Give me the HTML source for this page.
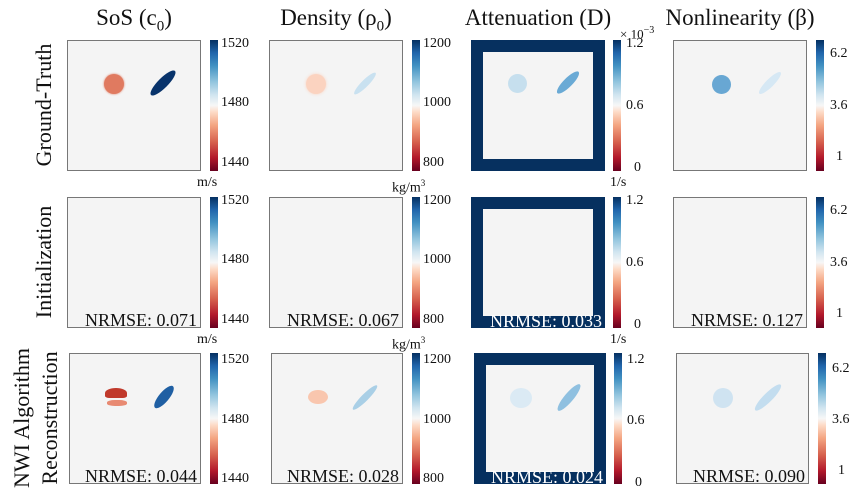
<!DOCTYPE html>
<html><head><meta charset="utf-8"><style>
body{margin:0;width:853px;height:499px;background:#fff;position:relative;overflow:hidden;font-family:"Liberation Serif","DejaVu Serif","Noto Serif CJK SC",serif;color:#111}
.p{position:absolute;width:134px;height:131px;background:#f4f4f4;border:1px solid #777;box-sizing:border-box;overflow:hidden}
.a{background:#06305f;border:none}
.a .in{position:absolute;left:12px;top:12px;right:12px;bottom:12px;background:#f4f4f4}
.cb{position:absolute;width:8px;height:131px;background:linear-gradient(to top,#67001f,#b2182b 10%,#d6604d 22%,#f4a582 35%,#fddbc7 45%,#f7f7f7 50%,#d1e5f0 58%,#92c5de 68%,#4393c3 80%,#2166ac 90%,#053061)}
.t{position:absolute;font-size:14px;line-height:14px}
.ti{position:absolute;font-size:23px;top:5px;width:220px;text-align:center;white-space:nowrap}
.n{position:absolute;right:3px;bottom:-3px;font-size:18px;line-height:20px;white-space:nowrap}
.b{position:absolute;border-radius:50%}
.rl{position:absolute;font-size:22px;white-space:nowrap;transform:translate(-50%,-50%) rotate(-90deg);line-height:24px}
</style></head><body>
<div class="ti" style="left:24px">SoS (c<sub style="font-size:15px">0</sub>)</div>
<div class="ti" style="left:226px">Density (ρ<sub style="font-size:15px">0</sub>)</div>
<div class="ti" style="left:428px">Attenuation (D)</div>
<div class="ti" style="left:630px">Nonlinearity (β)</div>
<div class="t" style="left:620px;top:24px;font-size:13px">× 10<sup style="font-size:10px">−3</sup></div>

<div class="rl" style="left:44px;top:105px">Ground-Truth</div>
<div class="rl" style="left:44px;top:262px">Initialization</div>
<div class="rl" style="left:22px;top:418px">NWI Algorithm</div>
<div class="rl" style="left:50px;top:418px">Reconstruction</div>

<!-- Row 1 -->
<div class="p" style="left:67px;top:40px">
 <div class="b" style="left:36px;top:33px;width:20px;height:20px;background:#e07a60;box-shadow:0 0 2px #e07a60"></div>
 <div class="b" style="left:78px;top:37px;width:34px;height:10px;background:#08336b;transform:rotate(-45deg)"></div>
</div>
<div class="p" style="left:269px;top:40px">
 <div class="b" style="left:36px;top:33px;width:20px;height:20px;background:#fbd3c0;box-shadow:0 0 3px #fbd3c0"></div>
 <div class="b" style="left:80px;top:39px;width:30px;height:7px;background:#c9e1f0;transform:rotate(-45deg)"></div>
</div>
<div class="p a" style="left:471px;top:40px"><div class="in">
 <div class="b" style="left:25px;top:22px;width:19px;height:19px;background:#c6dfee"></div>
 <div class="b" style="left:70px;top:26px;width:30px;height:9px;background:#6aaad5;transform:rotate(-45deg)"></div>
</div></div>
<div class="p" style="left:673px;top:40px">
 <div class="b" style="left:38px;top:34px;width:19px;height:19px;background:#68a7d3"></div>
 <div class="b" style="left:81px;top:38px;width:30px;height:8px;background:#d6e8f4;transform:rotate(-45deg)"></div>
</div>

<!-- Row 2 -->
<div class="p" style="left:67px;top:197px"><div class="n">NRMSE: 0.071</div></div>
<div class="p" style="left:269px;top:197px"><div class="n">NRMSE: 0.067</div></div>
<div class="p a" style="left:471px;top:197px"><div class="in"></div><div class="n" style="color:#fff">NRMSE: 0.033</div></div>
<div class="p" style="left:673px;top:197px"><div class="n">NRMSE: 0.127</div></div>

<!-- Row 3 -->
<div class="p" style="left:69px;top:353px;width:132px">
 <div class="b" style="left:35px;top:34px;width:22px;height:10px;background:#c0392b;border-radius:50% 50% 20% 20%"></div>
 <div class="b" style="left:37px;top:46px;width:20px;height:6px;background:#e88a72;border-radius:40%"></div>
 <div class="b" style="left:80px;top:38px;width:28px;height:10px;background:#1f5fa3;transform:rotate(-50deg)"></div>
 <div class="n">NRMSE: 0.044</div>
</div>
<div class="p" style="left:271px;top:353px;width:132px">
 <div class="b" style="left:36px;top:36px;width:20px;height:14px;background:#f9c6ae"></div>
 <div class="b" style="left:76px;top:40px;width:34px;height:7px;background:#a9cfe6;transform:rotate(-45deg)"></div>
 <div class="n">NRMSE: 0.028</div>
</div>
<div class="p a" style="left:474px;top:353px;width:132px"><div class="in">
 <div class="b" style="left:24px;top:23px;width:22px;height:20px;background:#dbeaf4"></div>
 <div class="b" style="left:66px;top:28px;width:34px;height:9px;background:#8fc0e0;transform:rotate(-50deg)"></div>
</div><div class="n" style="color:#fff">NRMSE: 0.024</div></div>
<div class="p" style="left:676px;top:353px;width:133px">
 <div class="b" style="left:36px;top:34px;width:20px;height:20px;background:#cfe3f1"></div>
 <div class="b" style="left:73px;top:39px;width:36px;height:9px;background:#c3ddef;transform:rotate(-45deg)"></div>
 <div class="n">NRMSE: 0.090</div>
</div>

<!-- Colorbars -->
<div class="cb" style="left:210px;top:40px"></div><div class="cb" style="left:412px;top:40px"></div><div class="cb" style="left:613px;top:40px"></div><div class="cb" style="left:816px;top:40px"></div>
<div class="cb" style="left:210px;top:197px"></div><div class="cb" style="left:412px;top:197px"></div><div class="cb" style="left:613px;top:197px"></div><div class="cb" style="left:816px;top:197px"></div>
<div class="cb" style="left:210px;top:353px"></div><div class="cb" style="left:412px;top:353px"></div><div class="cb" style="left:614px;top:353px"></div><div class="cb" style="left:818px;top:353px"></div>

<!-- tick labels row1 -->
<div class="t" style="left:221px;top:37px">1520</div><div class="t" style="left:221px;top:96px">1480</div><div class="t" style="left:221px;top:156px">1440</div>
<div class="t" style="left:423px;top:37px">1200</div><div class="t" style="left:423px;top:96px">1000</div><div class="t" style="left:423px;top:156px">800</div>
<div class="t" style="left:626px;top:37px">1.2</div><div class="t" style="left:626px;top:99px">0.6</div><div class="t" style="left:634px;top:161px">0</div>
<div class="t" style="left:830px;top:47px">6.2</div><div class="t" style="left:830px;top:99px">3.6</div><div class="t" style="left:836px;top:150px">1</div>
<div class="t" style="left:197px;top:176px">m/s</div><div class="t" style="left:392px;top:176px">kg/m<sup style="font-size:9px">3</sup></div><div class="t" style="left:610px;top:176px">1/s</div>
<!-- row2 -->
<div class="t" style="left:221px;top:194px">1520</div><div class="t" style="left:221px;top:253px">1480</div><div class="t" style="left:221px;top:313px">1440</div>
<div class="t" style="left:423px;top:194px">1200</div><div class="t" style="left:423px;top:253px">1000</div><div class="t" style="left:423px;top:313px">800</div>
<div class="t" style="left:626px;top:194px">1.2</div><div class="t" style="left:626px;top:256px">0.6</div><div class="t" style="left:634px;top:318px">0</div>
<div class="t" style="left:830px;top:204px">6.2</div><div class="t" style="left:830px;top:256px">3.6</div><div class="t" style="left:836px;top:307px">1</div>
<div class="t" style="left:197px;top:333px">m/s</div><div class="t" style="left:392px;top:333px">kg/m<sup style="font-size:9px">3</sup></div><div class="t" style="left:610px;top:333px">1/s</div>
<!-- row3 -->
<div class="t" style="left:221px;top:353px">1520</div><div class="t" style="left:221px;top:413px">1480</div><div class="t" style="left:221px;top:472px">1440</div>
<div class="t" style="left:423px;top:353px">1200</div><div class="t" style="left:423px;top:413px">1000</div><div class="t" style="left:423px;top:472px">800</div>
<div class="t" style="left:627px;top:353px">1.2</div><div class="t" style="left:627px;top:414px">0.6</div><div class="t" style="left:635px;top:476px">0</div>
<div class="t" style="left:832px;top:362px">6.2</div><div class="t" style="left:832px;top:413px">3.6</div><div class="t" style="left:838px;top:464px">1</div>
</body></html>
